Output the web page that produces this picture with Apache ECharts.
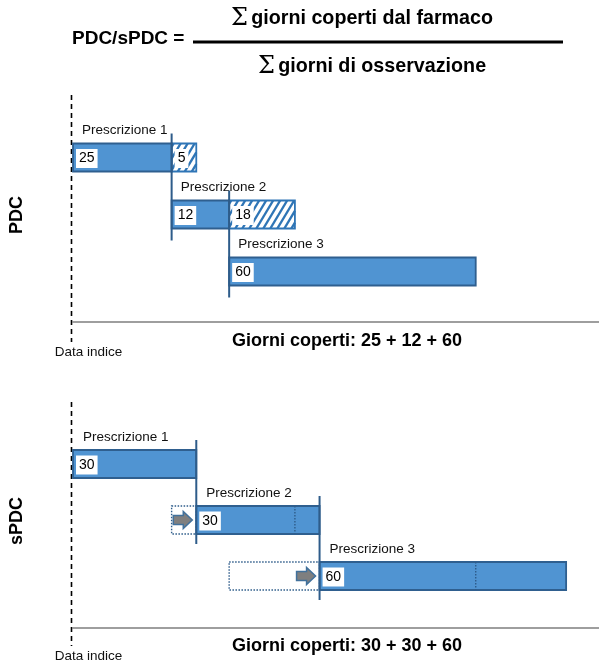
<!DOCTYPE html>
<html>
<head>
<meta charset="utf-8">
<script src="https://cdn.jsdelivr.net/npm/echarts@6/dist/echarts.min.js"></script>
<style>
html,body{margin:0;padding:0;background:#fff;}
#main{width:599px;height:669px;}
</style>
</head>
<body>
<div id="main"></div>
<script>
// ---- data ----
const prescriptions = ['Prescrizione 1', 'Prescrizione 2', 'Prescrizione 3'];
const dispenseDay = [0, 24, 38];          // day of each dispensing
const supplyDays = [30, 30, 60];          // days supplied
const pdcCovered = [25, 12, 60];          // PDC: days counted
const pdcExcess = [5, 18, 0];             // PDC: overlapping days lost
const spdcStart = [0, 30, 60];            // sPDC: shifted start
const spdcCovered = [30, 30, 60];         // sPDC: days counted
const pdcTotalText = 'Giorni coperti: 25 + 12 + 60';
const spdcTotalText = 'Giorni coperti: 30 + 30 + 60';

// ---- styles ----
const FONT = '"Liberation Sans", Arial, sans-serif';
const BAR_FILL = '#5094d2';
const BAR_STROKE = '#2f5f8f';
const HATCH = '#2e75b6';
const VLINE = '#2e5c8a';
const BAR_H = 28;

function pdcData() {
  return prescriptions.map((p, i) => {
    const next = i < dispenseDay.length - 1 ? dispenseDay[i + 1] : Infinity;
    const solidEnd = Math.min(next, dispenseDay[i] + supplyDays[i]);
    return [dispenseDay[i], i, supplyDays[i], solidEnd, pdcCovered[i], pdcExcess[i]];
  });
}
function spdcData() {
  return prescriptions.map((p, i) => [dispenseDay[i], i, supplyDays[i], spdcStart[i], spdcCovered[i]]);
}

function labelBox(x, yc, txt) {
  return {
    type: 'text', x: x, y: yc, z2: 20,
    style: {
      text: String(txt), font: '14px ' + FONT, fill: '#000',
      backgroundColor: '#fff', padding: [3, 3, 2, 3],
      verticalAlign: 'middle', align: 'left'
    }
  };
}
function rxText(x, y, txt) {
  return {
    type: 'text', x: x, y: y, z2: 20,
    style: { text: txt, font: '13.5px ' + FONT, fill: '#111', verticalAlign: 'middle', align: 'left' }
  };
}
function indexLine(params, api, children) {
  const cs = params.coordSys;
  const x = api.coord([0, 0])[0] - 1.5;
  const y1 = cs.y - 34, y2 = cs.y + cs.height + 42;
  children.push({
    type: 'line', z2: 5,
    shape: { x1: x, y1: y1, x2: x, y2: y2 },
    style: { stroke: '#000', lineWidth: 1.6, lineDash: [5, 4] }
  });
  children.push({
    type: 'text', x: x + 17, y: y2 + 10, z2: 20,
    style: { text: 'Data indice', font: '13.5px ' + FONT, fill: '#111', align: 'center', verticalAlign: 'middle' }
  });
}
function stripes(x1, x2, y1, y2) {
  const a = 0.6, step = 7, out = [];
  const kMin = x1 + a * y1, kMax = x2 + a * y2;
  for (let k = kMin + 2; k < kMax; k += step) {
    const xa = Math.max(x1, k - a * y2), xb = Math.min(x2, k - a * y1);
    if (xb - xa < 0.5) continue;
    out.push({
      type: 'line', z2: 8,
      shape: { x1: xa, y1: (k - xa) / a, x2: xb, y2: (k - xb) / a },
      style: { stroke: HATCH, lineWidth: 2.4 }
    });
  }
  return out;
}

function renderPDC(params, api) {
  const i = params.dataIndex;
  const disp = api.value(0), row = api.value(1), sup = api.value(2), solidEnd = api.value(3);
  const cov = api.value(4), exc = api.value(5);
  const c = api.coord([disp, row]);
  const band = api.size([0, 1])[1];
  const yTop = c[1] - BAR_H / 2, yBot = c[1] + BAR_H / 2;
  const xs = c[0];
  const xe = api.coord([solidEnd, row])[0];
  const xh = api.coord([disp + sup, row])[0];
  const ch = [];
  if (i === 0) indexLine(params, api, ch);
  if (xh > xe + 0.5) {
    ch.push({ type: 'rect', z2: 7, shape: { x: xe, y: yTop, width: xh - xe, height: BAR_H }, style: { fill: '#fff' } });
    stripes(xe, xh, yTop, yBot).forEach(s => ch.push(s));
    ch.push({ type: 'rect', z2: 9, shape: { x: xe, y: yTop, width: xh - xe, height: BAR_H }, style: { fill: null, stroke: HATCH, lineWidth: 1.8 } });
    if (exc > 0) ch.push(labelBox(xe + 3, c[1] + 1, exc));
  }
  ch.push({ type: 'rect', z2: 10, shape: { x: xs, y: yTop, width: xe - xs, height: BAR_H }, style: { fill: BAR_FILL, stroke: BAR_STROKE, lineWidth: 1.8 } });
  ch.push(labelBox(xs + 3, c[1] + 1, cov));
  ch.push(rxText(xs + 9, yTop - 13, prescriptions[i]));
  if (i > 0) {
    ch.push({ type: 'line', z2: 15, shape: { x1: xs, y1: yTop - band - 10, x2: xs, y2: yBot + 12 }, style: { stroke: VLINE, lineWidth: 2 } });
  }
  return { type: 'group', children: ch };
}

function renderSPDC(params, api) {
  const i = params.dataIndex;
  const disp = api.value(0), row = api.value(1), sup = api.value(2), start = api.value(3), cov = api.value(4);
  const c = api.coord([start, row]);
  const band = api.size([0, 1])[1];
  const yTop = c[1] - BAR_H / 2, yBot = c[1] + BAR_H / 2;
  const xs = c[0];
  const xd = api.coord([disp, row])[0];
  const xe = api.coord([start + sup, row])[0];
  const xo = api.coord([disp + sup, row])[0];
  const ch = [];
  if (i === 0) indexLine(params, api, ch);
  if (xs > xd + 0.5) {
    ch.push({ type: 'rect', z2: 6, shape: { x: xd, y: yTop, width: xs - xd, height: BAR_H }, style: { fill: null, stroke: VLINE, lineWidth: 1.4, lineDash: [1.5, 1.5] } });
    const ax = xs - 4, yc = c[1];
    ch.push({
      type: 'polygon', z2: 12,
      shape: { points: [[ax - 19, yc - 4.5], [ax - 9, yc - 4.5], [ax - 9, yc - 8.5], [ax, yc], [ax - 9, yc + 8.5], [ax - 9, yc + 4.5], [ax - 19, yc + 4.5]] },
      style: { fill: '#7f7f7f', stroke: '#41719c', lineWidth: 1.5 }
    });
  }
  ch.push({ type: 'rect', z2: 10, shape: { x: xs, y: yTop, width: xe - xs, height: BAR_H }, style: { fill: BAR_FILL, stroke: BAR_STROKE, lineWidth: 1.8 } });
  if (start > disp) {
    ch.push({ type: 'line', z2: 11, shape: { x1: xo, y1: yTop, x2: xo, y2: yBot }, style: { stroke: VLINE, lineWidth: 1.4, lineDash: [1.5, 1.5] } });
  }
  ch.push(labelBox(xs + 3, c[1] + 1, cov));
  ch.push(rxText(xs + 10, yTop - 13, prescriptions[i]));
  if (i > 0) {
    ch.push({ type: 'line', z2: 15, shape: { x1: xs, y1: yTop - band - 10, x2: xs, y2: yBot + 10 }, style: { stroke: VLINE, lineWidth: 2 } });
  }
  return { type: 'group', children: ch };
}

const chart = echarts.init(document.getElementById('main'), null, { renderer: 'canvas' });
const axisX = (gi, off) => ({
  type: 'value', gridIndex: gi, min: 0, max: 128, offset: off,
  axisLine: { show: true, lineStyle: { color: '#7f7f7f', width: 1.5 } },
  axisTick: { show: false }, axisLabel: { show: false }, splitLine: { show: false }
});
const axisY = (gi) => ({
  type: 'category', gridIndex: gi, data: prescriptions, inverse: true, show: false
});
const sigmaRich = {
  s: { font: '24px "DejaVu Serif", serif', fill: '#000' },
  t: { font: 'bold 19.7px ' + FONT, fill: '#000' }
};

chart.setOption({
  animation: false,
  backgroundColor: '#fff',
  grid: [
    { left: 73, right: 0, top: 129, height: 171 },
    { left: 73, right: 0, top: 436, height: 168 }
  ],
  xAxis: [axisX(0, 22), axisX(1, 24)],
  yAxis: [axisY(0), axisY(1)],
  series: [
    { type: 'custom', xAxisIndex: 0, yAxisIndex: 0, renderItem: renderPDC, encode: { x: [0, 3], y: 1 }, data: pdcData(), clip: false },
    { type: 'custom', xAxisIndex: 1, yAxisIndex: 1, renderItem: renderSPDC, encode: { x: [0, 3], y: 1 }, data: spdcData(), clip: false }
  ],
  graphic: [
    { type: 'text', left: 72, top: 29, style: { text: 'PDC/sPDC =', font: 'bold 19px ' + FONT, fill: '#000' } },
    { type: 'line', shape: { x1: 193, y1: 42, x2: 563, y2: 42 }, style: { stroke: '#000', lineWidth: 3 } },
    { type: 'text', x: 362, y: 19, style: { text: '{s|Σ} {t|giorni coperti dal farmaco}', align: 'center', verticalAlign: 'middle', rich: sigmaRich } },
    { type: 'text', x: 372, y: 67, style: { text: '{s|Σ} {t|giorni di osservazione}', align: 'center', verticalAlign: 'middle', rich: sigmaRich } },
    { type: 'text', x: 17, y: 215, rotation: Math.PI / 2, style: { text: 'PDC', font: 'bold 18px ' + FONT, fill: '#000', align: 'center', verticalAlign: 'middle' } },
    { type: 'text', x: 17, y: 521, rotation: Math.PI / 2, style: { text: 'sPDC', font: 'bold 18px ' + FONT, fill: '#000', align: 'center', verticalAlign: 'middle' } },
    { type: 'text', x: 347, y: 341, style: { text: pdcTotalText, font: 'bold 18px ' + FONT, fill: '#000', align: 'center', verticalAlign: 'middle' } },
    { type: 'text', x: 347, y: 646, style: { text: spdcTotalText, font: 'bold 18px ' + FONT, fill: '#000', align: 'center', verticalAlign: 'middle' } }
  ]
});
</script>
</body>
</html>
